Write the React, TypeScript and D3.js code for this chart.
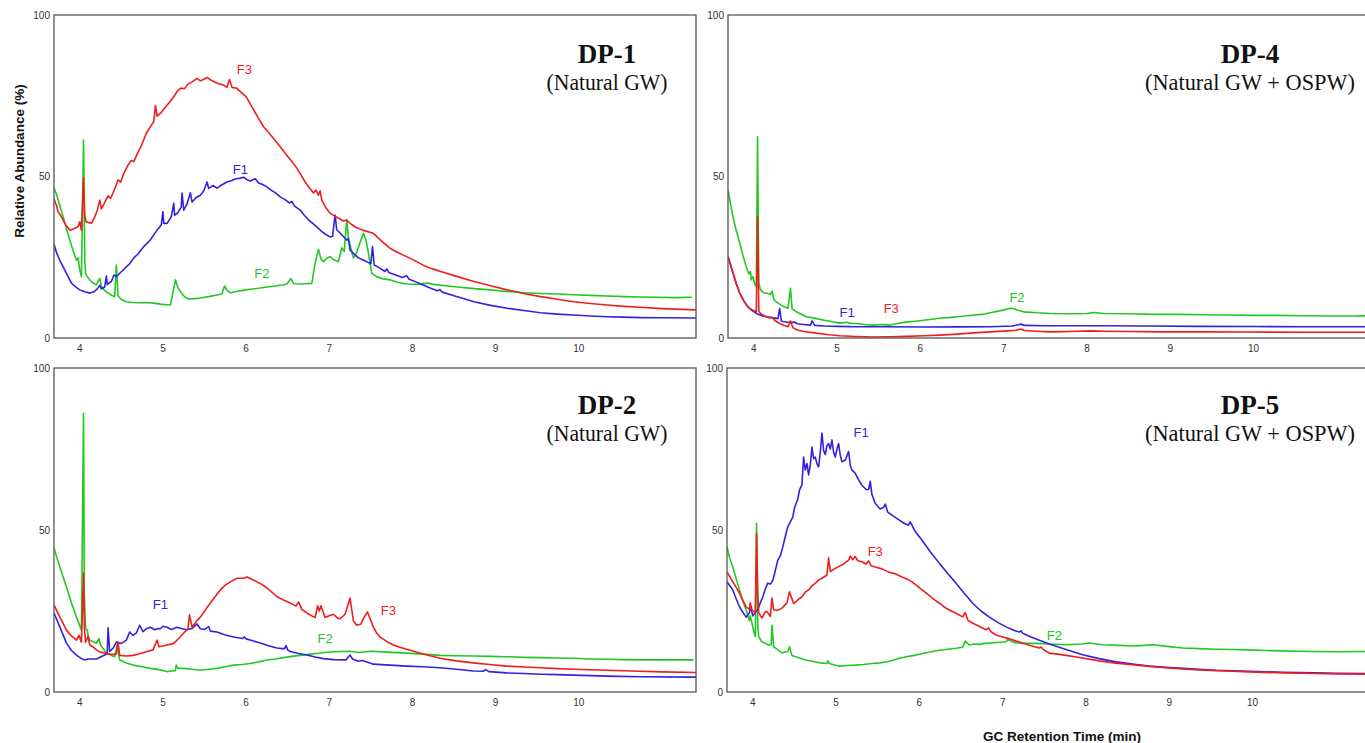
import React from "react";
import * as d3 from "d3";

type Pt = [number, number];

// axis ticks
const xTicks = [4, 5, 6, 7, 8, 9, 10];
const yTicks = [0, 50, 100];
const xDomain: Pt = [3.69, 11.41];

const colors: Record<string, string> = { F1: "#3322dd", F2: "#22c822", F3: "#f01d1d" };
const drawOrder = ["F2", "F1", "F3"];

// ---- DP-1 (Natural GW)
const dp1F1: Pt[] = [[3.69,29],[3.72,26.5],[3.76,24],[3.8,22],[3.85,19.5],[3.9,17],[3.95,15.8],[4.0,14.9],[4.06,14.3],[4.12,13.9],[4.17,14.3],[4.21,15.2],[4.24,16.3],[4.26,15.2],[4.3,15.8],[4.32,19.2],[4.33,16.5],[4.38,17.5],[4.41,19.5],[4.44,19],[4.5,20.5],[4.56,22],[4.6,23],[4.65,24.8],[4.7,26],[4.72,26.7],[4.77,28.3],[4.82,29.6],[4.85,30.4],[4.9,32.3],[4.93,33.4],[4.98,35],[5.0,39.1],[5.01,35.5],[5.05,35.5],[5.1,37.5],[5.13,41.7],[5.14,38],[5.18,38.8],[5.22,40.5],[5.23,44.9],[5.25,39.6],[5.29,41.5],[5.33,45],[5.35,42.1],[5.4,43.5],[5.45,44.2],[5.49,45.5],[5.53,48.3],[5.55,46.3],[5.6,47.2],[5.65,46.4],[5.7,47.3],[5.77,48.3],[5.82,48.7],[5.87,49.2],[5.93,49.5],[5.97,49.8],[6.01,49],[6.05,48.6],[6.11,49.3],[6.15,48],[6.2,47.5],[6.25,46.8],[6.3,45.8],[6.35,45],[6.41,43.7],[6.46,43],[6.52,41.8],[6.55,42.3],[6.58,40.9],[6.65,39.6],[6.7,38],[6.75,36.6],[6.8,35.5],[6.85,34.4],[6.9,33.2],[6.95,32.2],[7.01,31.3],[7.04,31.5],[7.07,38.1],[7.09,33.5],[7.13,32.5],[7.17,31.4],[7.21,30.3],[7.23,30.8],[7.25,27.2],[7.3,26],[7.35,24.8],[7.4,24.2],[7.46,23.5],[7.5,23],[7.52,28.3],[7.54,22.6],[7.6,21.8],[7.67,20.6],[7.69,21.4],[7.72,20.2],[7.8,19.5],[7.88,18.7],[7.93,19.3],[7.96,18.2],[8.05,17.3],[8.13,16.4],[8.22,15.4],[8.3,14.6],[8.33,15],[8.36,14.2],[8.5,13.1],[8.74,11.2],[8.94,10.1],[9.14,9.2],[9.34,8.5],[9.54,7.8],[9.74,7.4],[9.94,7.1],[10.14,6.8],[10.34,6.6],[10.54,6.45],[10.74,6.3],[11.0,6.25],[11.41,6.2]];
const dp1F2: Pt[] = [[3.69,46.4],[3.72,44.5],[3.74,42.7],[3.77,40],[3.8,37.5],[3.84,33.8],[3.88,30.3],[3.92,27],[3.96,24.1],[3.98,24.8],[4.0,21],[4.02,19],[4.045,61.3],[4.06,24],[4.07,20],[4.09,19],[4.12,18],[4.16,17],[4.2,16.5],[4.24,18.5],[4.26,16],[4.29,15],[4.32,14.3],[4.37,13.4],[4.42,12.8],[4.44,22.6],[4.46,13],[4.5,11.9],[4.56,11.2],[4.64,11],[4.72,10.9],[4.8,11],[4.89,10.8],[4.97,10.5],[5.05,10.3],[5.09,10.2],[5.15,18],[5.18,15.6],[5.21,14.3],[5.26,12.8],[5.31,12],[5.38,12.2],[5.45,12.4],[5.55,12.8],[5.65,13.3],[5.71,13.6],[5.74,16.1],[5.77,14.8],[5.81,14],[5.9,14.5],[6.0,14.9],[6.05,15.1],[6.15,15.4],[6.25,15.8],[6.35,16.1],[6.45,16.5],[6.49,16.7],[6.54,18.4],[6.57,16.8],[6.65,16.7],[6.72,16.8],[6.79,16.9],[6.83,23.2],[6.87,27.5],[6.9,24.5],[6.93,23.6],[6.97,24.7],[7.01,25.2],[7.05,24.3],[7.11,23.6],[7.15,27.9],[7.18,26.8],[7.21,36.5],[7.23,31],[7.25,28.8],[7.29,24.8],[7.33,26.5],[7.36,28.8],[7.41,32.4],[7.44,30.5],[7.47,26.5],[7.51,20],[7.57,19],[7.65,18.3],[7.73,18],[7.83,17.2],[7.93,16.7],[8.05,16.6],[8.18,17],[8.25,16.6],[8.4,16.2],[8.54,15.8],[8.74,15.3],[8.94,14.9],[9.14,14.4],[9.34,14],[9.54,13.8],[9.74,13.6],[9.94,13.4],[10.14,13.2],[10.34,13],[10.54,12.8],[10.74,12.7],[10.94,12.6],[11.15,12.5],[11.36,12.6]];
const dp1F3: Pt[] = [[3.69,43],[3.72,41],[3.74,39],[3.78,37.5],[3.83,35],[3.88,33.4],[3.93,33.8],[3.98,34.5],[4.0,36],[4.02,33.4],[4.045,49.5],[4.06,38],[4.075,36],[4.1,35.8],[4.14,35.5],[4.18,37.5],[4.21,39.5],[4.24,42.7],[4.26,40],[4.3,42],[4.34,44],[4.37,43.2],[4.41,45.5],[4.44,47.5],[4.46,49],[4.49,48.2],[4.53,51],[4.58,53.5],[4.62,55],[4.65,54.6],[4.69,57],[4.74,59.5],[4.8,63.4],[4.85,65.5],[4.89,67],[4.91,72],[4.93,68.7],[4.98,69.8],[5.03,71.5],[5.08,73],[5.13,74.7],[5.17,76.3],[5.21,77.3],[5.26,77.2],[5.3,78.6],[5.35,79.3],[5.41,80.4],[5.45,79.6],[5.5,80.2],[5.53,80.7],[5.58,79.8],[5.63,79.2],[5.68,78.6],[5.73,78.3],[5.77,77.6],[5.8,80],[5.83,77.6],[5.89,77.3],[5.95,75.8],[6.0,74.7],[6.05,72.5],[6.1,70.2],[6.15,68],[6.21,65.4],[6.26,64],[6.31,62.4],[6.36,60.8],[6.41,59.2],[6.46,57.5],[6.51,55.9],[6.56,54.3],[6.61,52.6],[6.66,50.5],[6.71,48.3],[6.76,46.5],[6.81,44.9],[6.84,45.8],[6.87,44.2],[6.89,45.6],[6.91,42.7],[6.96,40.3],[7.01,38.6],[7.06,37.8],[7.12,37],[7.17,36.2],[7.21,36.5],[7.26,35.3],[7.32,34.3],[7.4,33.4],[7.53,32.4],[7.63,30],[7.73,27.8],[7.83,26.4],[7.93,25.2],[8.04,23.8],[8.14,22.4],[8.24,21.4],[8.34,20.6],[8.54,19],[8.74,17.5],[8.94,16.2],[9.14,14.9],[9.34,13.8],[9.54,12.8],[9.74,12],[9.94,11.2],[10.14,10.7],[10.34,10.2],[10.54,9.8],[10.74,9.5],[11.0,9.1],[11.41,8.7]];
const dp1Labels = [
  { name: "F3", t: 5.98, v: 83 },
  { name: "F1", t: 5.93, v: 52.3 },
  { name: "F2", t: 6.19, v: 20 },
];

// ---- DP-2 (Natural GW)
const dp2F1: Pt[] = [[3.69,24.4],[3.76,20.1],[3.84,15.1],[3.9,12.8],[3.96,11.4],[4.02,10.3],[4.06,9.9],[4.1,10.2],[4.2,10.2],[4.3,11.4],[4.33,11.8],[4.34,19.8],[4.36,12.5],[4.4,13.5],[4.44,15.4],[4.5,15],[4.56,16],[4.6,18.5],[4.64,17.5],[4.68,18.2],[4.72,20.6],[4.76,18.6],[4.8,19.5],[4.85,20],[4.9,19.2],[4.94,19.6],[4.97,19.5],[5.0,20.3],[5.05,20],[5.1,19.3],[5.17,20],[5.22,19.6],[5.29,19.2],[5.35,19.6],[5.41,21],[5.45,19.5],[5.5,19.3],[5.55,20.2],[5.57,18.8],[5.65,18.5],[5.75,17.6],[5.85,17],[5.96,16.5],[5.98,17],[6.0,16.4],[6.08,15.8],[6.17,15.1],[6.27,14.3],[6.37,13.6],[6.46,13.3],[6.48,14.3],[6.5,13],[6.53,12.5],[6.63,11.9],[6.73,11.4],[6.83,10.8],[6.93,10.3],[7.05,10],[7.2,9.9],[7.25,11.4],[7.28,10.2],[7.35,9.5],[7.4,9.7],[7.53,8.6],[7.73,8.3],[7.93,8],[8.13,7.8],[8.33,7.5],[8.53,7],[8.73,6.5],[8.85,6.4],[8.88,6.9],[8.92,6.3],[9.13,5.9],[9.34,5.7],[9.54,5.5],[9.74,5.35],[9.94,5.2],[10.34,4.9],[10.74,4.7],[11.41,4.6]];
const dp2F2: Pt[] = [[3.69,44.4],[3.76,38.6],[3.84,32.4],[3.9,27.5],[3.96,23.1],[4.02,19.1],[4.045,86],[4.055,30],[4.07,19.5],[4.09,19.1],[4.1,17.5],[4.12,16],[4.2,15],[4.23,16.5],[4.25,14.5],[4.32,12],[4.38,11.3],[4.42,10.9],[4.45,14.6],[4.48,9.9],[4.55,9],[4.64,8.3],[4.75,7.8],[4.85,7.3],[4.95,6.9],[5.05,6.3],[5.1,6.5],[5.15,6.6],[5.16,8.3],[5.18,7.3],[5.25,7.3],[5.35,7],[5.45,6.7],[5.55,7],[5.65,7.3],[5.75,7.8],[5.85,8.3],[5.95,8.5],[6.05,8.8],[6.15,9.3],[6.25,9.9],[6.35,10.2],[6.45,10.6],[6.55,11],[6.65,11.3],[6.75,11.6],[6.85,11.9],[6.95,12.2],[7.05,12.4],[7.15,12.5],[7.25,12.6],[7.35,12.2],[7.5,12.6],[7.7,12.3],[7.93,12],[8.13,11.7],[8.33,11.3],[8.53,11.2],[8.73,11.1],[8.93,11],[9.13,10.9],[9.34,10.7],[9.54,10.6],[9.74,10.5],[9.94,10.4],[10.14,10.2],[10.34,10.1],[10.54,10],[10.74,9.9],[11.0,9.9],[11.38,9.9]];
const dp2F3: Pt[] = [[3.69,26.9],[3.76,23.1],[3.84,19.1],[3.9,17.3],[3.96,16],[3.99,17.5],[4.02,15.4],[4.045,36.7],[4.055,20],[4.07,15.4],[4.1,17.2],[4.12,14.5],[4.16,13.9],[4.2,13],[4.24,12.4],[4.3,12],[4.36,11.7],[4.42,11.6],[4.44,11.8],[4.46,15.4],[4.48,11.3],[4.56,11.1],[4.64,11.3],[4.72,11.8],[4.8,12.4],[4.88,13],[4.93,16],[4.95,14],[5.0,14.2],[5.05,14.5],[5.13,15],[5.19,16.5],[5.25,18.2],[5.3,19.5],[5.32,23.8],[5.35,20],[5.4,21.8],[5.45,23.1],[5.51,25.3],[5.57,27.5],[5.63,29.5],[5.69,31.5],[5.75,33],[5.81,34],[5.89,35.1],[5.97,35.1],[6.01,35.5],[6.07,34.8],[6.13,34],[6.19,33.2],[6.25,32.1],[6.31,30.8],[6.37,29.4],[6.45,28.4],[6.53,27.5],[6.6,26.5],[6.63,27.8],[6.67,25.5],[6.73,24.4],[6.79,23.5],[6.83,23],[6.86,26.6],[6.88,25],[6.9,26.6],[6.95,23],[7.0,23.5],[7.05,24],[7.1,22.8],[7.13,22.6],[7.19,24],[7.25,29],[7.29,22],[7.33,20.6],[7.38,21],[7.42,23.1],[7.46,24.7],[7.5,22],[7.53,20.1],[7.57,18.2],[7.61,17],[7.69,15.6],[7.77,14.5],[7.85,13.8],[7.93,13.2],[8.13,11.7],[8.33,10.4],[8.53,9.6],[8.73,9],[8.93,8.5],[9.13,8],[9.34,7.7],[9.54,7.5],[9.74,7.2],[9.94,7],[10.34,6.7],[10.74,6.4],[11.0,6.2],[11.41,6]];
const dp2Labels = [
  { name: "F1", t: 4.97, v: 26.9 },
  { name: "F2", t: 6.95, v: 16.4 },
  { name: "F3", t: 7.71, v: 25.3 },
];

// ---- DP-4 (Natural GW + OSPW)
const dp4F1: Pt[] = [[3.69,25.2],[3.75,20.1],[3.79,16.8],[3.83,13.9],[3.88,11.5],[3.93,9.6],[3.98,8.5],[4.03,7.6],[4.09,7],[4.15,6.6],[4.22,6.3],[4.29,6],[4.31,9.2],[4.33,5.3],[4.35,5.1],[4.42,4.8],[4.49,4.9],[4.52,4.4],[4.6,4.2],[4.68,4],[4.7,5.3],[4.73,3.9],[4.85,3.7],[5.0,3.6],[5.23,3.5],[5.6,3.5],[6.04,3.4],[6.44,3.45],[6.84,3.5],[7.1,3.7],[7.18,4.1],[7.2,4.3],[7.25,3.9],[7.5,3.8],[7.8,3.8],[8.16,3.8],[8.7,3.7],[9.36,3.6],[10.0,3.55],[10.56,3.5],[11.42,3.5]];
const dp4F2: Pt[] = [[3.69,45.8],[3.72,41.5],[3.75,37.5],[3.79,33.2],[3.83,29.4],[3.87,25.5],[3.91,22],[3.94,19.8],[3.96,20.6],[3.97,18],[3.99,19],[4.01,16.8],[4.03,15.8],[4.045,62.3],[4.06,17],[4.08,14.9],[4.12,14],[4.15,13.9],[4.2,13.5],[4.22,14.5],[4.24,12],[4.27,11.2],[4.31,10.5],[4.35,9.8],[4.41,9.2],[4.44,15.4],[4.46,9],[4.5,8.3],[4.55,7.6],[4.63,6.6],[4.69,6.3],[4.75,6],[4.83,5.6],[4.93,5.1],[5.03,4.6],[5.12,4.9],[5.16,4.5],[5.23,4.5],[5.33,4.2],[5.43,4],[5.53,4.2],[5.63,4],[5.73,4.5],[5.84,5],[5.94,5.2],[6.04,5.5],[6.14,5.8],[6.24,6.2],[6.34,6.3],[6.44,6.6],[6.54,6.8],[6.64,7.1],[6.74,7.3],[6.84,7.8],[6.95,8.4],[7.04,9],[7.1,9.2],[7.17,8.6],[7.24,8.1],[7.4,7.8],[7.56,7.6],[7.8,7.5],[8.0,7.6],[8.08,7.9],[8.2,7.6],[8.5,7.5],[8.8,7.3],[9.1,7.3],[9.4,7.2],[9.7,7.1],[10.0,7],[10.3,7],[10.6,6.9],[10.9,6.8],[11.2,6.8],[11.42,6.9]];
const dp4F3: Pt[] = [[3.69,25.2],[3.75,20.1],[3.79,16.8],[3.83,13.9],[3.88,11.5],[3.93,9.6],[3.98,8.7],[4.03,8.1],[4.045,37.5],[4.06,8.4],[4.08,7.6],[4.13,6.8],[4.19,6.2],[4.22,6.4],[4.25,5.5],[4.29,4.8],[4.35,4],[4.41,3.5],[4.44,5.3],[4.47,3.2],[4.52,2.5],[4.6,2],[4.75,1.5],[4.9,1],[5.03,0.7],[5.23,0.45],[5.43,0.3],[5.63,0.4],[5.84,0.5],[6.04,0.7],[6.24,0.9],[6.44,1.2],[6.64,1.6],[6.84,1.9],[7.04,2.2],[7.15,2.4],[7.2,2.8],[7.25,2.3],[7.4,2.1],[7.56,1.9],[7.8,2],[8.05,2.2],[8.2,2.1],[8.5,2],[8.9,1.9],[9.36,1.9],[9.9,1.85],[10.56,1.8],[11.42,1.8]];
const dp4Labels = [
  { name: "F1", t: 5.12, v: 8 },
  { name: "F3", t: 5.65, v: 9 },
  { name: "F2", t: 7.16, v: 12.4 },
];

// ---- DP-5 (Natural GW + OSPW)
const dp5F1: Pt[] = [[3.69,34],[3.76,31.5],[3.8,28.8],[3.84,26.3],[3.88,24.6],[3.92,23.1],[3.96,24.5],[3.97,26.5],[4.0,23.5],[4.03,24.5],[4.06,25.5],[4.09,27.5],[4.12,29.4],[4.15,31.8],[4.18,33.6],[4.21,33.3],[4.24,34.4],[4.27,37.5],[4.3,40.7],[4.33,42],[4.36,44.8],[4.39,48],[4.42,51],[4.45,52.5],[4.48,54],[4.5,56.8],[4.52,58.2],[4.54,59.5],[4.56,62.3],[4.59,64],[4.61,72.5],[4.63,68.5],[4.65,70.5],[4.67,67],[4.69,70],[4.71,75.6],[4.73,72],[4.75,72.5],[4.77,70.5],[4.79,69.5],[4.81,74],[4.83,79.9],[4.85,74.5],[4.87,73.3],[4.89,76],[4.91,76.7],[4.93,75],[4.95,77.8],[4.97,74],[4.99,72.5],[5.01,75],[5.03,76.7],[5.05,73],[5.07,71.1],[5.11,71.5],[5.15,74.2],[5.17,70],[5.19,68.5],[5.23,67.5],[5.27,65.5],[5.31,63.8],[5.36,62.5],[5.39,62.5],[5.41,65],[5.43,61],[5.47,58.2],[5.53,56.5],[5.57,57],[5.59,58],[5.62,55.5],[5.67,54.6],[5.75,53.2],[5.82,52],[5.87,51.5],[5.89,52.5],[5.95,49.5],[6.03,46.9],[6.13,43.3],[6.24,39.7],[6.34,36.6],[6.44,33.6],[6.54,30.4],[6.64,27.4],[6.74,25],[6.84,23.1],[6.94,21.5],[7.04,20.1],[7.14,19],[7.2,18.5],[7.22,18.9],[7.24,18.1],[7.34,17],[7.44,16],[7.56,14.8],[7.76,13.1],[7.96,11.5],[8.16,10.3],[8.36,9.3],[8.56,8.6],[8.76,8],[8.96,7.6],[9.16,7.3],[9.36,7],[9.56,6.7],[9.96,6.4],[10.36,6.1],[10.76,5.9],[11.0,5.8],[11.41,5.7]];
const dp5F2: Pt[] = [[3.69,44.8],[3.72,41.5],[3.76,38.6],[3.8,35],[3.84,31.5],[3.88,28.2],[3.92,25.3],[3.96,22],[3.97,23.5],[3.99,21.2],[4.01,19],[4.03,17.1],[4.045,52.1],[4.06,20],[4.07,17.1],[4.11,15.5],[4.15,15],[4.19,14.5],[4.22,14.5],[4.23,20.6],[4.25,14],[4.3,13],[4.35,12.1],[4.42,12.5],[4.44,14],[4.47,11.3],[4.55,10.6],[4.63,9.9],[4.73,9.4],[4.83,8.9],[4.89,8.8],[4.9,9.6],[4.92,8.8],[4.97,8.4],[5.03,8],[5.13,8.2],[5.23,8.3],[5.33,8.5],[5.43,8.8],[5.53,9],[5.63,9.4],[5.73,10.2],[5.84,10.9],[5.94,11.3],[6.04,11.9],[6.14,12.4],[6.24,12.9],[6.34,13.2],[6.44,13.5],[6.52,13.8],[6.55,15.7],[6.6,14.5],[6.66,14.8],[6.72,14.7],[6.78,15],[6.84,15.1],[6.94,15.3],[7.04,15.5],[7.06,16.2],[7.14,15.3],[7.24,15],[7.4,15],[7.56,14.8],[7.76,14.6],[7.95,14.8],[8.04,15.1],[8.2,14.6],[8.4,14.4],[8.56,14.2],[8.7,14.4],[8.8,14.6],[9.0,14],[9.16,13.6],[9.36,13.4],[9.56,13.2],[9.76,13.1],[9.96,13],[10.16,12.8],[10.36,12.7],[10.56,12.6],[10.76,12.5],[11.0,12.4],[11.41,12.5]];
const dp5F3: Pt[] = [[3.69,37.1],[3.76,34],[3.8,32.3],[3.84,30.5],[3.88,28.3],[3.92,26.3],[3.96,25.5],[3.97,27.5],[3.99,25.3],[4.03,24.3],[4.045,48.9],[4.06,30],[4.07,24.5],[4.11,22.8],[4.15,24.8],[4.17,24.8],[4.21,23.3],[4.23,29],[4.25,25.4],[4.3,25.2],[4.35,25.9],[4.41,27.5],[4.44,30.9],[4.49,27.3],[4.54,28.4],[4.59,29.4],[4.63,30.8],[4.67,31.5],[4.71,32.8],[4.75,33.5],[4.79,34.6],[4.83,35.1],[4.89,36.1],[4.91,41.4],[4.93,37.2],[4.98,38],[5.03,38.7],[5.09,39.5],[5.15,40.7],[5.17,42],[5.2,40.8],[5.23,41.8],[5.26,40.5],[5.31,40.2],[5.36,39.5],[5.39,40.5],[5.42,39],[5.47,38.6],[5.55,38],[5.63,37],[5.71,36.5],[5.79,35.5],[5.85,34.9],[5.91,34],[5.97,32.8],[6.03,31.5],[6.09,30.4],[6.14,29.3],[6.19,28.3],[6.24,27.4],[6.29,26.4],[6.34,25.6],[6.39,24.9],[6.44,24.3],[6.52,23.2],[6.55,24.5],[6.58,22.2],[6.66,21],[6.72,20.2],[6.8,19.2],[6.83,19.8],[6.86,18.6],[6.92,17.6],[7.0,17],[7.08,16.4],[7.16,15.7],[7.24,15.1],[7.34,14.3],[7.44,13.6],[7.46,13.9],[7.5,12.9],[7.56,12],[7.66,11.7],[7.76,11.3],[7.96,10.5],[8.16,9.6],[8.36,8.9],[8.56,8.4],[8.76,7.9],[8.96,7.5],[9.16,7.1],[9.36,6.8],[9.56,6.6],[9.76,6.4],[9.96,6.2],[10.36,5.9],[10.76,5.7],[11.0,5.6],[11.41,5.5]];
const dp5Labels = [
  { name: "F1", t: 5.3, v: 80 },
  { name: "F3", t: 5.47, v: 43.5 },
  { name: "F2", t: 7.62, v: 17.6 },
];

const panels = [
  { id: "dp1", title: "DP-1", subtitle: "(Natural GW)", box: [54, 15, 696, 338], titleX: 607, titleY: 63, subY: 90, subW: 121,
    series: { F1: dp1F1, F2: dp1F2, F3: dp1F3 }, labels: dp1Labels },
  { id: "dp4", title: "DP-4", subtitle: "(Natural GW + OSPW)", box: [728, 15, 1371, 338], titleX: 1250, titleY: 63, subY: 90, subW: 210,
    series: { F1: dp4F1, F2: dp4F2, F3: dp4F3 }, labels: dp4Labels },
  { id: "dp2", title: "DP-2", subtitle: "(Natural GW)", box: [54, 368, 696, 692], titleX: 607, titleY: 414, subY: 441, subW: 121,
    series: { F1: dp2F1, F2: dp2F2, F3: dp2F3 }, labels: dp2Labels },
  { id: "dp5", title: "DP-5", subtitle: "(Natural GW + OSPW)", box: [727, 368, 1370, 692], titleX: 1250, titleY: 414, subY: 441, subW: 210,
    series: { F1: dp5F1, F2: dp5F2, F3: dp5F3 }, labels: dp5Labels },
];

const Panel = ({ p }: { p: (typeof panels)[number] }) => {
  const [l, t, r, b] = p.box;
  const x = d3.scaleLinear().domain(xDomain).range([l, r]);
  const y = d3.scaleLinear().domain([0, 100]).range([b, t]);
  const line = d3.line<Pt>().x((d) => x(d[0])).y((d) => y(d[1]));
  const clipId = "clip-" + p.id;

  return (
    <g>
      <defs>
        <clipPath id={clipId}>
          <rect x={l} y={t} width={r - l} height={b - t} />
        </clipPath>
      </defs>
      <g clipPath={`url(#${clipId})`}>
        {drawOrder.map((k) => (
          <path key={k} d={line((p.series as any)[k]) || ""} fill="none" stroke={colors[k]} strokeWidth={1.6} strokeLinejoin="round" />
        ))}
      </g>
      <rect x={l} y={t} width={r - l} height={b - t} fill="none" stroke="#555" strokeWidth={1.3} />
      {xTicks.map((v) => (
        <text key={v} x={x(v)} y={b + 14} textAnchor="middle" fontSize={10} fill="#333">{v}</text>
      ))}
      {yTicks.map((v) => (
        <text key={v} x={l - 4} y={y(v)} dy="0.35em" textAnchor="end" fontSize={10} fill="#333">{v}</text>
      ))}
      {p.labels.map((d) => (
        <text key={d.name} x={x(d.t)} y={y(d.v)} dy="0.35em" textAnchor="middle" fontSize={13} fill={colors[d.name]}>{d.name}</text>
      ))}
      <text x={p.titleX} y={p.titleY} textAnchor="middle" fontFamily="'Liberation Serif', 'Times New Roman', serif" fontWeight="bold" fontSize={27} fill="#111">{p.title}</text>
      <text x={p.titleX} y={p.subY} textAnchor="middle" fontFamily="'Liberation Serif', 'Times New Roman', serif" fontSize={23} fill="#111"
        textLength={p.subW} lengthAdjust="spacingAndGlyphs">{p.subtitle}</text>
    </g>
  );
};

export default function App() {
  return (
    <svg width={1365} height={743} style={{ position: "absolute", left: 0, top: 0, background: "#fff" }}
      fontFamily="Arial, 'Liberation Sans', sans-serif">
      {panels.map((p) => <Panel key={p.id} p={p} />)}
      <text transform="translate(23.5,161) rotate(-90)" textAnchor="middle" fontWeight="bold" fontSize={13.5} fill="#111">
        Relative Abundance (%)
      </text>
      <text x={1062} y={741} textAnchor="middle" fontWeight="bold" fontSize={13.5} fill="#111">GC Retention Time (min)</text>
    </svg>
  );
}
